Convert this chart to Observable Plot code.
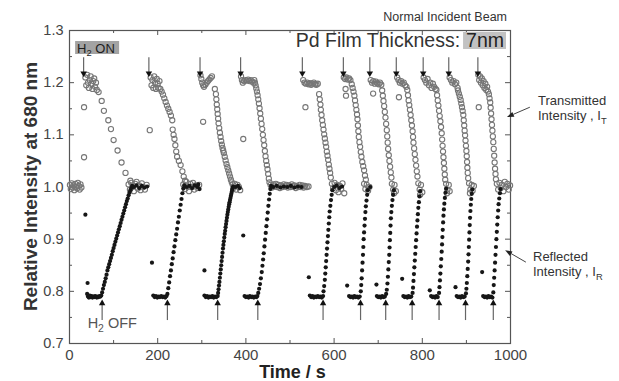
<!DOCTYPE html>
<html><head><meta charset="utf-8">
<script src="https://cdn.jsdelivr.net/npm/d3@7"></script>
<script src="https://cdn.jsdelivr.net/npm/@observablehq/plot@0.6"></script>
<style>body{margin:0;background:#fff}#chart{width:619px;height:381px}</style>
</head><body><div id="chart"></div>
<script>
// ---- tick values ----
const xTicks = [0, 200, 400, 600, 800, 1000];
const xMinor = [100, 300, 500, 700, 900];
const yTicks = [0.7, 0.8, 0.9, 1.0, 1.1, 1.2, 1.3];
const yMinor = [0.75, 0.85, 0.95, 1.05, 1.15, 1.25];
// ---- gas switching times (s) ----
const h2On  = [32, 180, 296, 388, 528, 621, 681, 741, 802, 860, 926];
const h2Off = [74, 222, 336, 427, 575, 660, 717, 777, 838, 898, 961];
const onArrow = [1.248, 1.218];
const offArrow = [0.744, 0.777];
// ---- transmitted intensity I_T : [time s, relative intensity] ----
const transmitted = [
 [1,1.004],[3,0.996],[5,1.007],[7,0.999],[9,1.003],[11,0.994],[13,1.006],[15,1.0],[17,0.997],[19,1.008],[21,1.002],[23,0.995],[25,1.005],[27,0.999],
 // cycle 1
 [33,1.153],[33,1.057],
 [36,1.21],[38,1.195],[40,1.215],[42,1.2],[44,1.19],[46,1.205],[48,1.212],[50,1.198],[52,1.188],[54,1.203],[56,1.208],[58,1.192],[60,1.2],[62,1.186],
 [66,1.182],[73,1.165],[78,1.146],[88,1.128],[94,1.111],[100,1.09],[109,1.07],[118,1.047],[127,1.027],[138,1.012],
 [134,1.005],[137,0.995],[140,1.008],[143,1.0],[146,0.992],[149,1.006],[152,1.01],[155,0.997],[158,1.003],[161,0.994],[164,1.007],[167,1.0],[171,0.995],[175,1.004],
 // cycle 2
 [182,1.109],
 [184,1.21],[186,1.195],[188,1.205],[190,1.19],[192,1.212],[194,1.2],[196,1.188],[198,1.207],[200,1.198],[202,1.19],[204,1.203],[206,1.188],
 [209,1.183],[212,1.177],[215,1.17],[218,1.163],[221,1.156],[224,1.15],[227,1.144],[230,1.137],[233,1.128],
 [234,1.11],[236,1.1],[238,1.092],[240,1.08],[242,1.068],[244,1.058],[248,1.05],[252,1.042],[256,1.03],[259,1.02],[262,1.012],
 [258,1.005],[262,0.996],[265,1.01],[268,1.0],[271,0.992],[274,1.006],[277,1.0],[280,1.008],[283,0.995],[286,1.003],[290,0.998],[294,1.004],
 // cycle 3
 [303,1.125],
 [297,1.214],[299,1.207],[301,1.2],[303,1.195],[305,1.192],[308,1.196],[311,1.2],[314,1.203],[317,1.206],[320,1.209],[323,1.212],[329.6,1.188],
 [332,1.178],[333,1.168],[334,1.158],[335,1.149],[336,1.14],[337,1.131],[338,1.122],[339.5,1.113],[341,1.104],[342.5,1.096],[344,1.088],[345.5,1.081],[347,1.075],[348.5,1.07],[350,1.065],[352,1.058],[354,1.051],[356,1.044],[358,1.038],[360,1.032],[362,1.026],[364,1.02],[366,1.014],[368,1.009],[370,1.005],
 [372,0.998],[375,1.006],[378,0.995],[381,1.004],[384,1.0],[387,0.994],
 // cycle 4
 [394,1.092],
 [389,1.212],[391,1.205],[393,1.2],[396,1.203],[399,1.205],[402,1.204],[405,1.206],[408,1.203],[411,1.205],[414,1.202],[417,1.2],
 [419,1.205],[420.5,1.2],[422,1.195],[423.5,1.189],[425,1.183],[426.5,1.176],[428,1.168],[429.5,1.16],[431,1.151],[432.5,1.141],[434,1.131],[435.5,1.121],[437,1.111],[438.5,1.1],[440,1.09],[441.5,1.08],[443,1.069],[444.5,1.059],[446,1.05],[447.5,1.042],[449,1.034],[450.5,1.025],[452,1.016],[453.5,1.009],
 [456,1.004],[459,0.999],[462,1.005],[465,1.001],[468,1.006],[471,1.0],[474,1.004],[477,0.998],[480,1.003],[483,1.0],[486,1.005],[489,1.001],[492,1.004],[495,0.999],[498,1.003],[501,1.0],[504,1.005],[507,1.001],[510,1.003],[513,0.998],[516,1.002],[519,1.0],[522,1.004],[525,1.0],[528,1.003],[531,0.999],[534,1.002],[538,1.0],[542,1.001],
 // cycle 5
 [535,1.153],
 [530,1.205],[533,1.2],[536,1.198],[539,1.2],[542,1.197],[545,1.199],[548,1.196],[551,1.198],[554,1.2],[557,1.197],[560,1.196],[563,1.198],
 [566,1.178],[567.5,1.168],[569,1.158],[570,1.148],[571.5,1.138],[573,1.128],[574.5,1.119],[576,1.11],[577.5,1.101],[579,1.093],[580.5,1.085],[582,1.077],[583.5,1.068],[585,1.06],[586.5,1.052],[588,1.043],[589.5,1.035],[591,1.027],[592.5,1.018],
 [595,1.006],[598,0.998],[601,1.008],[604,0.994],[607,1.004],[610,0.99],[613,1.002],[616,0.996],[619,1.007],[623,0.988],
 // cycle 6
 [626,1.188],[627,1.175],
 [622,1.21],[625,1.207],[628,1.21],[631,1.206],[634,1.208],[637,1.205],
 [640,1.197],[642,1.19],[644,1.183],[646,1.175],[647.5,1.166],[649,1.157],[650.5,1.148],[652,1.139],[653,1.13],[654,1.118],[655,1.107],[656,1.096],[657.5,1.086],[659,1.077],[660.5,1.067],[662,1.058],[664,1.048],[666,1.04],[668,1.032],[670,1.022],[672,1.014],
 [668,1.006],[671,0.996],[674,1.004],[677,0.993],[680,1.0],
 // cycle 7
 [688.5,1.179],
 [683,1.205],[686,1.2],[689,1.203],[692,1.198],[695,1.202],[698,1.199],[701,1.197],[704,1.2],[707,1.196],
 [709,1.185],[710.5,1.175],[712,1.165],[713.5,1.155],[715,1.144],[716.5,1.133],[718,1.121],[719.5,1.109],[720.5,1.097],[721.5,1.085],[722.5,1.073],[724,1.061],[725.5,1.05],[727,1.039],[728.5,1.028],[730,1.018],
 [731,1.006],[734,0.995],[737,1.004],[740,0.992],[736,0.988],
 // cycle 8
 [747,1.172],
 [743,1.21],[746,1.205],[749,1.2],[752,1.203],[755,1.198],[758,1.2],[761,1.195],[764,1.192],
 [766,1.186],[767.5,1.176],[769,1.166],[770.5,1.157],[772,1.148],[773.5,1.138],[775,1.128],[776.5,1.118],[778,1.107],[779,1.096],[780,1.085],[781.5,1.074],[783,1.063],[784.5,1.052],[786,1.041],[787.5,1.03],[789,1.02],
 [791,1.007],[794,0.995],[797,1.004],[800,0.99],[795,0.985],
 // cycle 9
 [803,1.21],[806,1.205],[809,1.2],[812,1.207],[815,1.195],[818,1.2],[821,1.19],[824,1.198],[827,1.192],[830,1.188],
 [832,1.186],[833.5,1.176],[835,1.166],[836.5,1.156],[838,1.146],[839.5,1.136],[841,1.126],[842.5,1.115],[844,1.103],[845,1.091],[846,1.079],[847,1.068],[848,1.057],[849,1.046],[850,1.035],[851,1.024],[852,1.014],
 [854,1.006],[857,0.995],[860,1.004],[856,0.988],[862,0.992],
 // cycle 10
 [862,1.21],[865,1.205],[868,1.2],[871,1.203],[874,1.197],[877,1.2],[880,1.19],
 [881,1.185],[883,1.179],[885,1.173],[887,1.167],[888.5,1.16],[890,1.153],[891.5,1.146],[893,1.138],[894,1.128],[895,1.118],[896,1.108],[897,1.099],[898,1.089],[899,1.079],[900,1.069],[900.8,1.059],[901.5,1.048],[902.2,1.037],[903,1.027],[904,1.017],
 [906,1.007],[909,0.995],[912,1.004],[908,0.988],[914,0.993],[917,1.002],
 // cycle 11
 [928,1.153],
 [927,1.215],[929,1.205],[931,1.212],[933,1.2],[935,1.208],[937,1.195],[939,1.203],[941,1.19],[943,1.198],[945,1.186],[947,1.192],[949,1.183],
 [951,1.178],[952.5,1.17],[954,1.162],[955,1.152],[956,1.141],[957,1.13],[958,1.119],[959,1.108],[960,1.097],[961,1.086],[962,1.073],[963,1.06],[964,1.047],[965,1.035],[966,1.025],[967,1.015],
 [969,1.006],[972,0.995],[975,1.008],[978,0.998],[981,1.004],[984,0.992],[987,1.01],[990,1.0],[993,1.006],[996,0.995],[999,1.003]
];
// ---- reflected intensity I_R : [time s, relative intensity] ----
const reflected = [
 // cycle 1
 [36,0.947],[41,0.816],
 [40,0.795],[42,0.79],[44,0.788],[46,0.792],[48,0.789],[50,0.791],[52,0.788],[54,0.79],[56,0.789],[58,0.791],[60,0.79],[62,0.788],[64,0.79],[66,0.789],[68,0.791],[70,0.79],[72,0.792],
 [74,0.798],[76,0.805],[78,0.812],[80,0.818],[82,0.825],[84,0.832],[86,0.84],[88,0.846],[90,0.852],[92,0.858],[94,0.864],[96,0.87],[98,0.877],[100,0.883],[102,0.889],[104,0.895],[106,0.901],[108,0.907],[110,0.913],[112,0.919],[114,0.925],[116,0.931],[118,0.937],[120,0.943],[122,0.949],[124,0.955],[126,0.961],[128,0.967],[130,0.973],[132,0.978],[134,0.984],[136,0.989],[138,0.994],[140,0.998],[142,1.002],
 [146,1.0],[152,1.003],[158,0.998],[164,1.002],[170,0.999],[176,1.001],
 // cycle 2
 [187,0.855],
 [190,0.792],[193,0.789],[196,0.791],[199,0.788],[202,0.79],[205,0.789],[208,0.791],[211,0.789],[214,0.79],[217,0.788],[220,0.791],
 [222,0.795],[224,0.806],[226,0.817],[228,0.829],[230,0.84],[232,0.852],[234,0.863],[236,0.875],[238,0.886],[240,0.898],[242,0.909],[244,0.92],[246,0.932],[248,0.943],[250,0.955],[252,0.966],[254,0.977],[256,0.988],[258,0.997],[260,1.003],
 [266,1.0],[272,1.002],[278,0.998],[284,1.003],[290,1.0],[292,1.005],[295,0.996],
 // cycle 3
 [306,0.84],
 [306,0.792],[309,0.789],[312,0.791],[315,0.788],[318,0.79],[321,0.789],[324,0.791],[327,0.788],[330,0.79],[333,0.789],[336,0.791],
 [337,0.797],[338,0.804],[339,0.811],[340,0.818],[341,0.826],[342,0.834],[343,0.842],[344,0.85],[345,0.858],[346,0.866],[347,0.874],[348,0.882],[349,0.889],[350,0.896],[351,0.903],[352,0.91],[353,0.916],[354,0.923],[355,0.929],[356,0.935],[357,0.941],[358,0.947],[359,0.952],[360,0.957],[361,0.962],[362,0.967],[363,0.971],[364,0.975],[365,0.979],[366,0.983],[367,0.987],[368,0.991],[369,0.995],[370,0.998],[371,1.001],
 [376,1.0],[382,1.002],[386,0.998],
 // cycle 4
 [394,0.907],
 [397,0.791],[400,0.789],[403,0.79],[406,0.788],[409,0.791],[412,0.789],[415,0.79],[418,0.788],[421,0.79],[424,0.789],[426,0.791],
 [428,0.797],[430,0.805],[432,0.814],[434,0.825],[436,0.837],[437.5,0.849],[439,0.861],[440.5,0.873],[442,0.886],[443.5,0.899],[445,0.912],[446.5,0.925],[448,0.938],[449.5,0.951],[451,0.964],[452.5,0.976],[454,0.987],[455.5,0.996],[457,1.002],
 [462,1.0],[470,1.002],[478,0.999],[486,1.001],[494,1.0],[502,1.002],[510,0.999],[518,1.001],[526,1.0],
 // cycle 5
 [542.7,0.827],
 [545,0.792],[548,0.789],[551,0.791],[554,0.788],[557,0.79],[560,0.789],[563,0.791],[566,0.789],[569,0.79],[572,0.788],[575,0.791],
 [576,0.8],[577.5,0.81],[579,0.822],[580,0.834],[581,0.846],[582,0.858],[583,0.87],[584,0.882],[585,0.894],[586,0.906],[587,0.918],[588,0.93],[589,0.942],[590,0.953],[591.5,0.964],[593,0.975],[594.5,0.985],[596,0.994],
 [600,1.0],[606,1.003],[612,0.998],[618,1.001],
 // cycle 6
 [629.6,0.811],
 [634,0.791],[637,0.789],[640,0.79],[643,0.788],[646,0.791],[649,0.789],[652,0.79],[655,0.788],[658,0.79],
 [660.5,0.8],[661.5,0.812],[662.5,0.825],[663.5,0.84],[664.5,0.855],[665.5,0.87],[666.3,0.885],[667,0.9],[668,0.913],[669,0.926],[670,0.939],[671,0.952],[672,0.963],[673.5,0.974],[675,0.985],[676.5,0.994],
 [682,1.0],
 // cycle 7
 [696,0.813],
 [697,0.791],[700,0.789],[703,0.79],[706,0.788],[709,0.791],[712,0.789],[715,0.79],
 [718,0.795],[719.5,0.803],[721,0.815],[722,0.828],[723,0.842],[724,0.856],[725,0.87],[725.8,0.884],[726.5,0.898],[727.3,0.912],[728,0.926],[728.8,0.94],[729.8,0.952],[731,0.964],[732.3,0.975],[733.8,0.985],[735.5,0.994],
 // cycle 8
 [754.3,0.824],
 [757,0.791],[760,0.789],[763,0.79],[766,0.788],[769,0.791],[772,0.789],[775,0.79],
 [778,0.797],[779,0.807],[780,0.82],[781,0.833],[782,0.846],[783,0.859],[784,0.872],[785,0.885],[786,0.898],[787,0.911],[788,0.924],[789,0.936],[790,0.948],[791,0.96],[792.3,0.971],[793.6,0.982],[795,0.992],
 // cycle 9
 [817,0.802],
 [820,0.791],[823,0.789],[826,0.79],[829,0.788],[832,0.791],[835,0.789],
 [838,0.797],[839,0.808],[840,0.821],[841,0.834],[842,0.848],[843,0.862],[844,0.876],[844.8,0.89],[845.6,0.904],[846.4,0.918],[847.2,0.932],[848,0.945],[849,0.957],[850,0.968],[851.2,0.979],[852.5,0.989],[854,0.997],
 // cycle 10
 [875.3,0.808],
 [878,0.791],[881,0.789],[884,0.79],[887,0.788],[890,0.791],[893,0.789],[896,0.79],
 [899,0.796],[900,0.805],[901,0.816],[902,0.829],[903,0.843],[904,0.857],[904.8,0.871],[905.5,0.885],[906.2,0.899],[906.9,0.913],[907.6,0.927],[908.3,0.941],[909.1,0.954],[910,0.966],[911,0.977],[912.2,0.987],[913.5,0.995],
 // cycle 11
 [935.7,0.837],
 [938,0.791],[941,0.789],[944,0.79],[947,0.788],[950,0.791],[953,0.789],[956,0.79],[959,0.788],
 [961,0.798],[962,0.812],[963,0.826],[964,0.84],[965,0.855],[966,0.87],[967,0.885],[968,0.9],[969,0.914],[970,0.928],[971,0.942],[972,0.955],[973,0.967],[974.5,0.978],[976,0.988],[977.5,0.996]
];
// ---- annotation arrows [x1,y1,x2,y2] in data units ----
const tArrow = [1045, 1.152, 993, 1.133];
const rArrow = [1036, 0.855, 989, 0.878];

const W = 619, H = 381, mL = 69, mR = 109, mT = 30, mB = 38;
const fw = W - mL - mR;
const fh = H - mT - mB;
const fam = "Liberation Sans, Arial, Helvetica, sans-serif";

const plot = Plot.plot({
  width: W, height: H, marginLeft: mL, marginRight: mR, marginTop: mT, marginBottom: mB,
  x: {domain: [0, 1000]},
  y: {domain: [0.7, 1.3]},
  style: {fontFamily: fam, color: "#444", background: "#fff", overflow: "visible"},
  marks: [
    Plot.axisX({ticks: xTicks, tickSize: 0, tickPadding: 6, fontSize: 15, label: null, fill: "#444", tickFormat: d => String(d)}),
    Plot.axisY({ticks: yTicks, tickSize: 0, tickPadding: 6, fontSize: 14.5, label: null, fill: "#444", tickFormat: d3.format(".1f")}),
    Plot.tickY(yTicks, {y: d => d, insetRight: fw - 5, stroke: "#555"}),
    Plot.tickY(yTicks, {y: d => d, insetLeft: fw - 5, stroke: "#555"}),
    Plot.tickY(yMinor, {y: d => d, insetRight: fw - 3, stroke: "#555"}),
    Plot.tickY(yMinor, {y: d => d, insetLeft: fw - 3, stroke: "#555"}),
    Plot.tickX(xTicks, {x: d => d, insetTop: fh - 5, stroke: "#555"}),
    Plot.tickX(xTicks, {x: d => d, insetBottom: fh - 5, stroke: "#555"}),
    Plot.tickX(xMinor, {x: d => d, insetTop: fh - 3, stroke: "#555"}),
    Plot.tickX(xMinor, {x: d => d, insetBottom: fh - 3, stroke: "#555"}),
    Plot.frame({stroke: "#555", strokeWidth: 1.2}),
    Plot.dot(transmitted, {x: d => d[0], y: d => d[1], r: 2.6, stroke: "#767676", strokeWidth: 1.1, fill: "none"}),
    Plot.dot(reflected, {x: d => d[0], y: d => d[1], r: 2.1, fill: "#161616", stroke: "none"}),
    Plot.ruleX(h2On, {x: d => d, y1: onArrow[0], y2: onArrow[1], stroke: "#666", strokeWidth: 1.2}),
    Plot.dot(h2On, {x: d => d, y: onArrow[1], symbol: "triangle", rotate: 180, r: 2.4, fill: "#111"}),
    Plot.ruleX(h2Off, {x: d => d, y1: offArrow[0], y2: offArrow[1], stroke: "#666", strokeWidth: 1.2}),
    Plot.dot(h2Off, {x: d => d, y: offArrow[1], symbol: "triangle", r: 2.4, fill: "#111"})
  ]
});
document.getElementById("chart").append(plot);

const sx = plot.scale("x").apply, sy = plot.scale("y").apply;
const svg = d3.select(plot);

function addText(x, y, parts, {size, weight = "normal", fill = "#333", anchor = "start"}) {
  const t = svg.append("text").attr("x", x).attr("y", y)
    .attr("font-family", fam).attr("font-size", size).attr("font-weight", weight)
    .attr("fill", fill).attr("text-anchor", anchor);
  let off = 0;
  for (const [s, isSub] of parts) {
    const ts = t.append("tspan").text(s);
    const target = isSub ? size * 0.28 : 0;
    if (target !== off) ts.attr("dy", target - off);
    if (isSub) ts.attr("font-size", size * 0.72);
    off = target;
  }
  return t;
}
function addArrow([x1, y1, x2, y2]) {
  const a = [sx(x1), sy(y1)], b = [sx(x2), sy(y2)];
  const dx = b[0] - a[0], dy = b[1] - a[1], L = Math.hypot(dx, dy);
  const ux = dx / L, uy = dy / L, hl = 7, hw = 2.6;
  const bx = b[0] - ux * hl, by = b[1] - uy * hl;
  svg.append("line").attr("x1", a[0]).attr("y1", a[1]).attr("x2", bx).attr("y2", by)
    .attr("stroke", "#444").attr("stroke-width", 1);
  svg.append("path").attr("d", `M${b[0]},${b[1]}L${bx - uy * hw},${by + ux * hw}L${bx + uy * hw},${by - ux * hw}Z`)
    .attr("fill", "#222");
}

// axis titles
svg.append("text").attr("transform", `translate(37,${(sy(1.3) + sy(0.7)) / 2}) rotate(-90)`)
  .attr("text-anchor", "middle").attr("font-family", fam).attr("font-size", 19).attr("font-weight", "bold")
  .attr("fill", "#333").text("Relative Intensity at 680 nm");
svg.append("text").attr("x", (sx(0) + sx(1000)) / 2 + 3).attr("y", 378)
  .attr("text-anchor", "middle").attr("font-family", fam).attr("font-size", 18).attr("font-weight", "bold")
  .attr("fill", "#222").text("Time / s");

// top texts
addText(sx(1000) - 3, sy(1.3) - 9, [["Normal Incident Beam"]], {size: 12.5, anchor: "end", fill: "#333"});
const nm = addText(sx(1000) - 6, sy(1.3) + 17, [["7nm"]], {size: 19.5, anchor: "end", fill: "#222"});
const bb = nm.node().getBBox();
svg.insert("rect", () => nm.node()).attr("x", bb.x - 3).attr("y", sy(1.3) + 2).attr("width", bb.width + 5).attr("height", 17).attr("fill", "#c2c2c2");
addText(bb.x - 6, sy(1.3) + 17, [["Pd Film Thickness:"]], {size: 19.5, anchor: "end", fill: "#333"});

// H2 ON label
const onX = sx(h2On[0]);
svg.append("rect").attr("x", onX - 8).attr("y", sy(1.3) + 11).attr("width", 44).attr("height", 13).attr("fill", "#a3a3a3");
addText(onX - 6, sy(1.3) + 22.5, [["H"], ["2", true], [" ON"]], {size: 13, fill: "#1e1e1e"});

// H2 OFF label
addText(sx(h2Off[0]) - 14, sy(0.7) - 15, [["H"], ["2", true], [" OFF"]], {size: 14.5, fill: "#555"});

// right annotations
addText(538, sy(1.3) + 75, [["Transmitted"]], {size: 13, fill: "#333"});
addText(538, sy(1.3) + 90, [["Intensity , I"], ["T", true]], {size: 13, fill: "#333"});
addText(533, sy(1.3) + 231, [["Reflected"]], {size: 13, fill: "#333"});
addText(533, sy(1.3) + 246, [["Intensity , I"], ["R", true]], {size: 13, fill: "#333"});
addArrow(tArrow);
addArrow(rArrow);
</script></body></html>
